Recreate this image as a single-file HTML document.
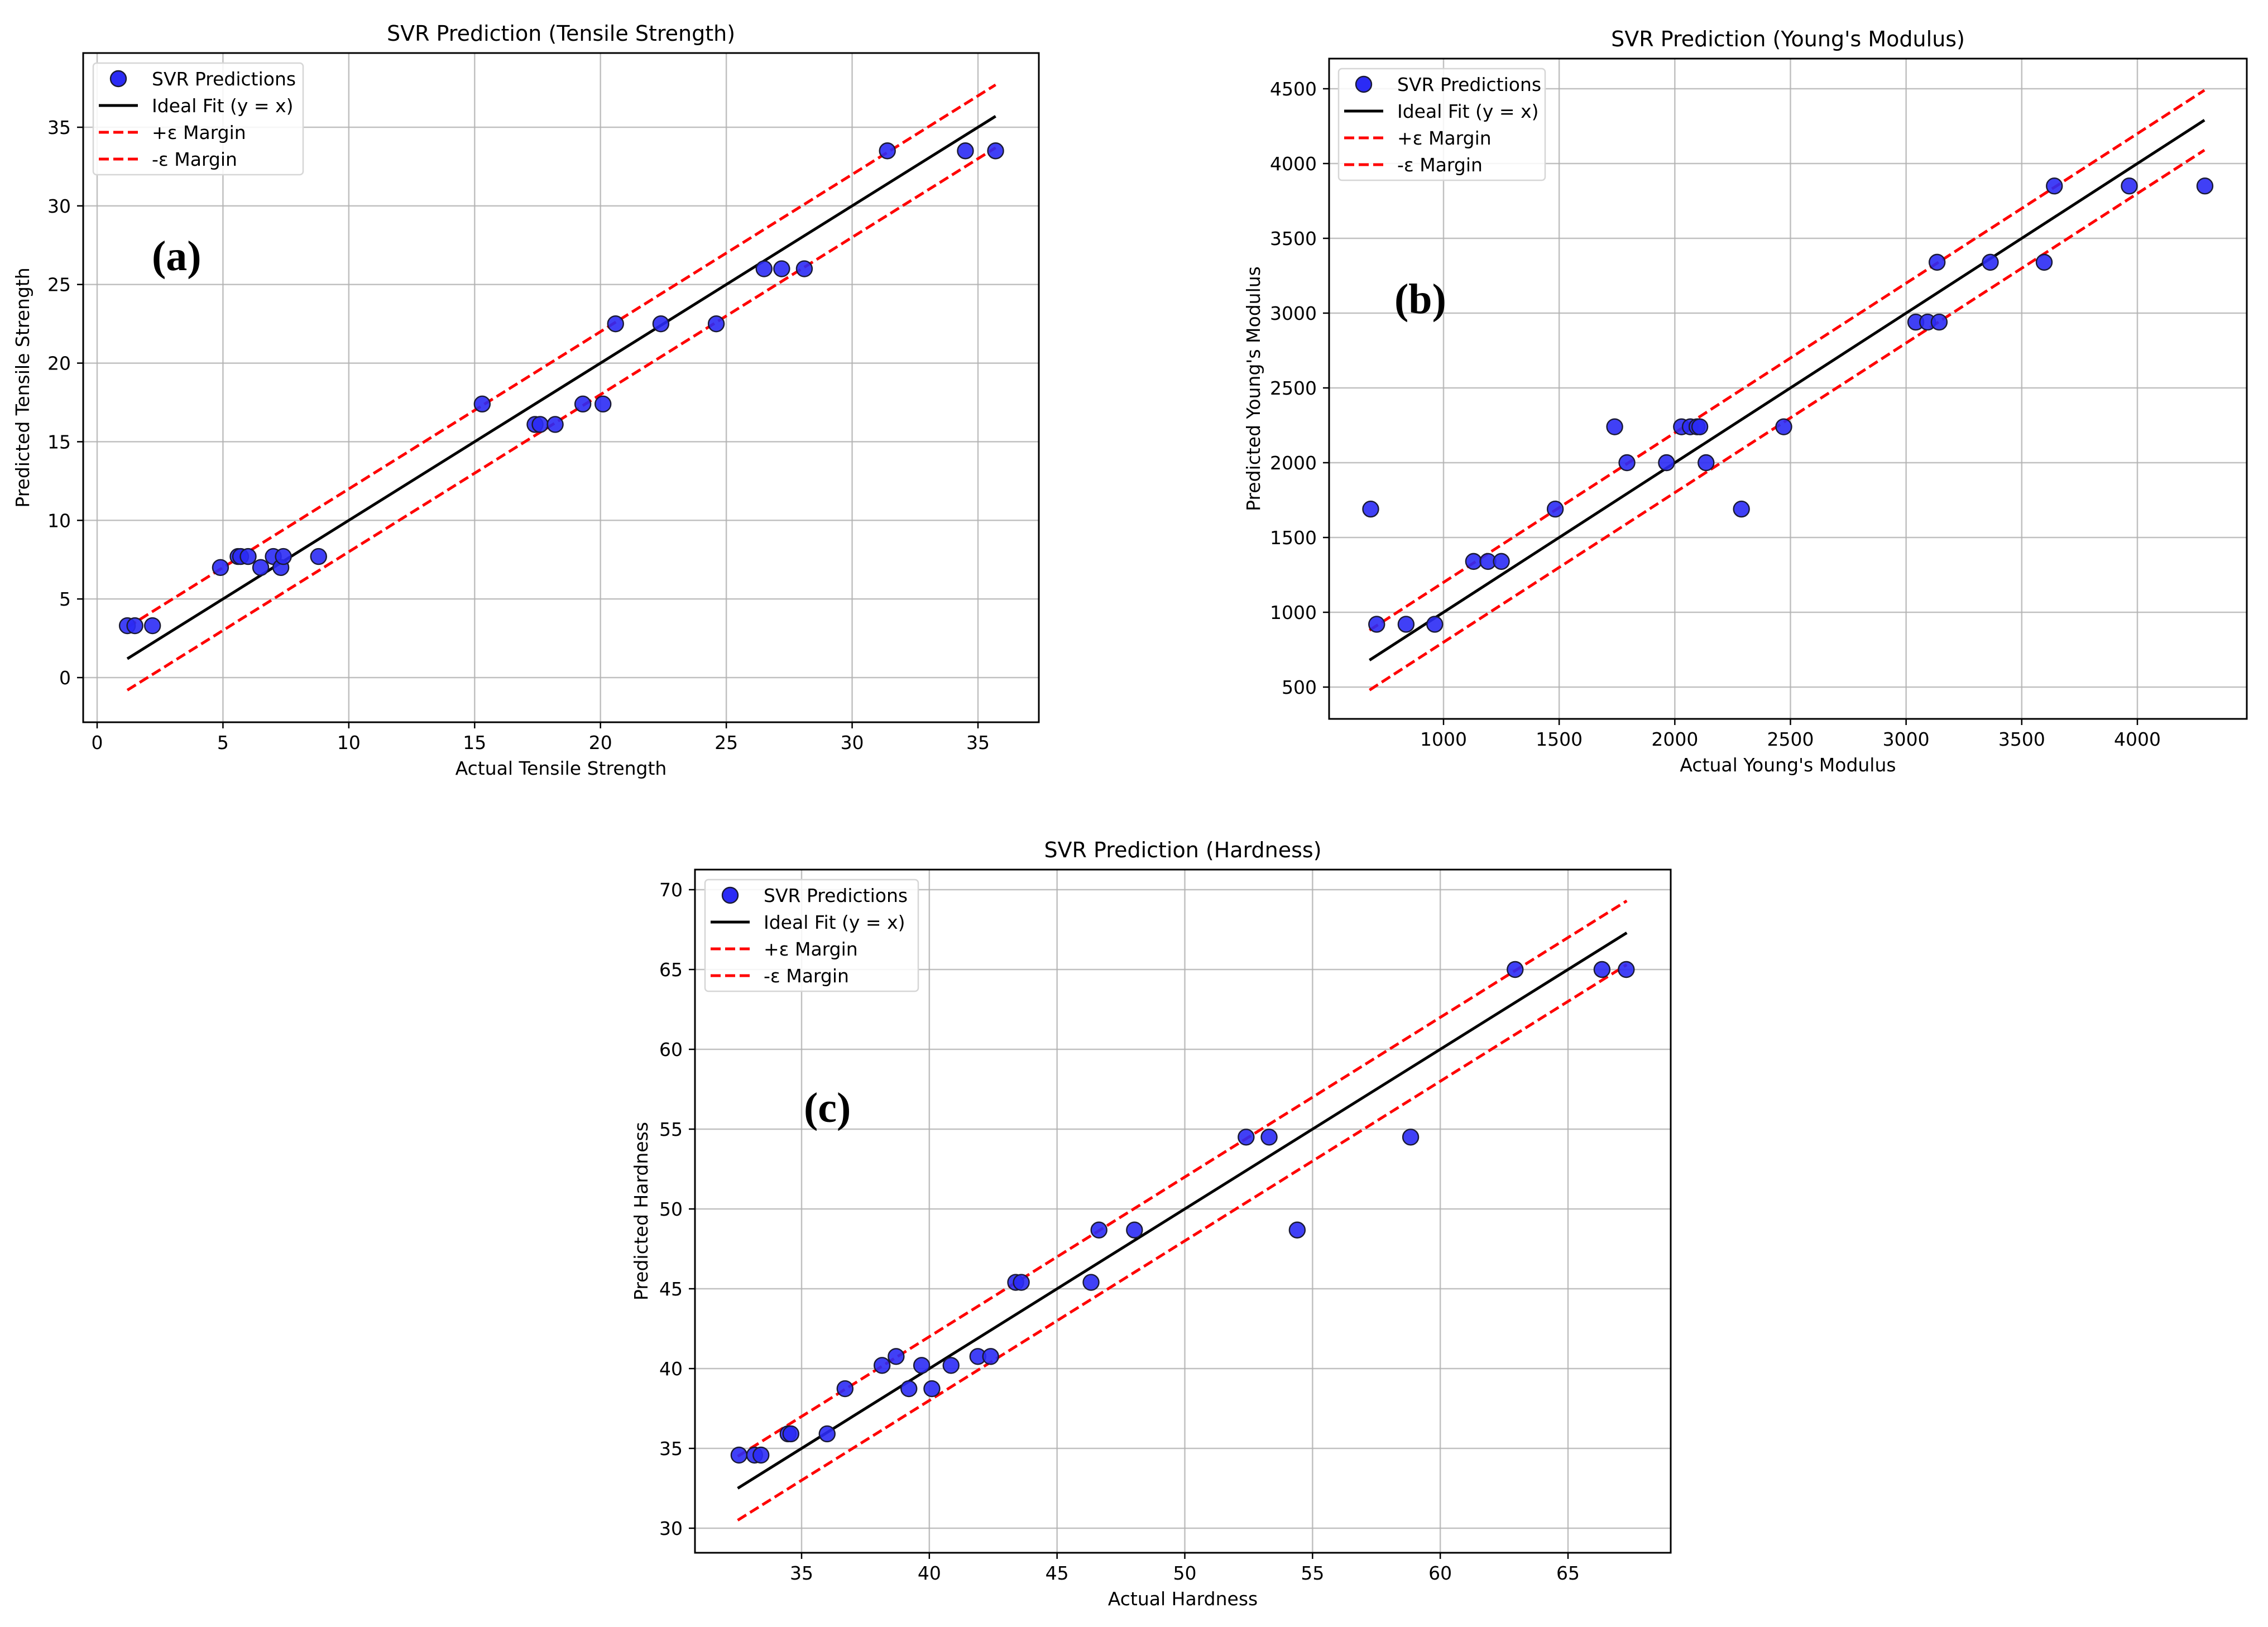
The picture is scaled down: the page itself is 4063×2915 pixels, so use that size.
<!DOCTYPE html>
<html><head><meta charset="utf-8"><style>
html,body{margin:0;padding:0;background:#fff;}
svg{display:block;font-family:"DejaVu Sans","Liberation Sans",sans-serif;}
</style></head><body>
<svg id="fig" width="4063" height="2915" viewBox="0 0 4063 2915" xmlns="http://www.w3.org/2000/svg"></svg>
<script>
// Panel (a) Tensile Strength
const tsActual = [1.2,1.5,2.2,4.9,5.6,5.7,6.0,6.5,7.0,7.3,7.4,8.8,15.3,17.4,17.6,18.2,19.3,20.1,20.6,22.4,24.6,26.5,27.2,28.1,31.4,34.5,35.7];
const tsPred   = [3.3,3.3,3.3,7.0,7.7,7.7,7.7,7.0,7.7,7.0,7.7,7.7,17.4,16.1,16.1,16.1,17.4,17.4,22.5,22.5,22.5,26.0,26.0,26.0,33.5,33.5,33.5];
const tsXTicks = [0,5,10,15,20,25,30,35];
const tsYTicks = [0,5,10,15,20,25,30,35];
const tsEps = 2;
// Panel (b) Young's Modulus
const ymActual = [685,711,838,962,1130,1192,1250,1483,1740,1793,1964,2029,2067,2096,2108,2135,2288,2471,3042,3093,3143,3134,3364,3597,3641,3965,4292];
const ymPred   = [1690,920,920,920,1340,1340,1340,1690,2240,2000,2000,2240,2240,2240,2240,2000,1690,2240,2940,2940,2940,3340,3340,3340,3850,3850,3850];
const ymXTicks = [1000,1500,2000,2500,3000,3500,4000];
const ymYTicks = [500,1000,1500,2000,2500,3000,3500,4000,4500];
const ymEps = 200;
// Panel (c) Hardness
const hdActual = [32.55,33.16,33.41,34.47,34.58,36.0,36.7,38.15,38.7,39.2,39.7,40.1,40.85,41.9,42.4,43.38,43.6,46.33,46.64,48.03,54.4,52.4,53.3,58.84,62.93,66.33,67.28];
const hdPred   = [34.58,34.58,34.58,35.91,35.91,35.91,38.74,40.2,40.76,38.74,40.2,38.74,40.2,40.76,40.76,45.4,45.4,45.4,48.68,48.68,48.68,54.5,54.5,54.5,65.0,65.0,65.0];
const hdXTicks = [35,40,45,50,55,60,65];
const hdYTicks = [30,35,40,45,50,55,60,65,70];
const hdEps = 2;

const NS = "http://www.w3.org/2000/svg";
const svg = document.getElementById('fig');
function mk(tag, attrs, parent){
  const e = document.createElementNS(NS, tag);
  for (const k in attrs) e.setAttribute(k, attrs[k]);
  (parent||svg).appendChild(e);
  return e;
}
function txt(s, attrs, parent){ const t = mk('text', attrs, parent); t.textContent = s; return t; }

function panel(cfg){
  const g = mk('g', {});
  
  
  const X = v => cfg.x0px + (v - cfg.x0v) * cfg.xs;
  const Y = v => cfg.y0px - (v - cfg.y0v) * cfg.ys;
  const L = cfg.left, R = cfg.right, T = cfg.top, B = cfg.bottom;
  cfg.xt.forEach(v => {
    const l = mk('line', {x1:X(v), x2:X(v), y1:T, y2:B, stroke:'#b0b0b0', 'stroke-width':2.5, 'stroke-opacity':0.8}, g);
    
    
    mk('line', {x1:X(v), x2:X(v), y1:B, y2:B+11, stroke:'#000', 'stroke-width':2.5}, g);
    const t = txt(cfg.xfmt(v), {x:X(v), y:B+48, 'text-anchor':'middle', 'font-size':33, fill:'#000'}, g);
    
    
  });
  cfg.yt.forEach(v => {
    const l = mk('line', {x1:L, x2:R, y1:Y(v), y2:Y(v), stroke:'#b0b0b0', 'stroke-width':2.5, 'stroke-opacity':0.8}, g);
    
    
    mk('line', {x1:L-11, x2:L, y1:Y(v), y2:Y(v), stroke:'#000', 'stroke-width':2.5}, g);
    const t = txt(String(v), {x:L-22, y:Y(v)+12, 'text-anchor':'end', 'font-size':33, fill:'#000'}, g);
    
    
  });
  const a = cfg.lineFrom, b = cfg.lineTo, e = cfg.eps;
  const up = mk('line', {x1:X(a), y1:Y(a+e), x2:X(b), y2:Y(b+e), stroke:'#ff0000', 'stroke-width':5, 'stroke-dasharray':'18,8'}, g);
  
  
  const dn = mk('line', {x1:X(a), y1:Y(a-e), x2:X(b), y2:Y(b-e), stroke:'#ff0000', 'stroke-width':5, 'stroke-dasharray':'18,8'}, g);
  
  
  const id = mk('line', {x1:X(a), y1:Y(a), x2:X(b), y2:Y(b), stroke:'#000', 'stroke-width':5}, g);
  
  
  cfg.ax.forEach((v, i) => {
    const c = mk('circle', {cx:X(v), cy:Y(cfg.py[i]), r:14, fill:'#2b2bf5', 'fill-opacity':0.9, stroke:'#1a1a33', 'stroke-width':2.4}, g);
    
    
  });
  const fr = mk('rect', {x:L, y:T, width:R-L, height:B-T, fill:'none', stroke:'#000', 'stroke-width':3}, g);
  
  
  const lg = mk('g', {}, g);
  
  
  const lx = cfg.leg[0], ly = cfg.leg[1];
  mk('rect', {x:lx, y:ly, width:cfg.leg[2], height:200, rx:6, fill:'#fff', 'fill-opacity':0.85, stroke:'#d6d6d6', 'stroke-width':2.5}, lg);
  const hx = lx+10, tx = lx+105;
  const r0 = ly+28;
  const m = mk('circle', {cx:hx+35, cy:r0, r:14, fill:'#2b2bf5', stroke:'#1a1a33', 'stroke-width':2.4}, lg);
  
  
  mk('line', {x1:hx, x2:hx+70, y1:r0+48, y2:r0+48, stroke:'#000', 'stroke-width':5}, lg);
  mk('line', {x1:hx, x2:hx+70, y1:r0+96, y2:r0+96, stroke:'#f00', 'stroke-width':5, 'stroke-dasharray':'18,8'}, lg);
  mk('line', {x1:hx, x2:hx+70, y1:r0+144, y2:r0+144, stroke:'#f00', 'stroke-width':5, 'stroke-dasharray':'18,8'}, lg);
  ['SVR Predictions','Ideal Fit (y = x)','+ε Margin','-ε Margin'].forEach((s, i) => {
    const t = txt(s, {x:tx, y:r0+48*i+12, 'font-size':33, fill:'#000'}, lg);
    
    
  });
  const tt = txt(cfg.title, {x:(L+R)/2, y:T-22, 'text-anchor':'middle', 'font-size':38, fill:'#000'}, g);
  
  
  const xl = txt(cfg.xlabel, {x:(L+R)/2, y:B+94, 'text-anchor':'middle', 'font-size':33, fill:'#000'}, g);
  
  
  const ycx = cfg.ylx, ycy = (T+B)/2;
  const yl = txt(cfg.ylabel, {x:ycx, y:ycy, 'text-anchor':'middle', 'font-size':33, fill:'#000', transform:`rotate(-90 ${ycx} ${ycy})`}, g);
  
  
  const pl = txt(cfg.tag, {x:cfg.tagPos[0], y:cfg.tagPos[1], 'font-size':76, 'font-weight':'bold', 'font-family':'"Liberation Serif",serif', fill:'#000'}, g);
  
  
}

panel({id:'tensile', ax:tsActual, py:tsPred, xt:tsXTicks, yt:tsYTicks, eps:tsEps, xfmt:v=>String(v),
  left:149, right:1861, top:95, bottom:1294,
  x0v:0, x0px:174, xs:(1752-174)/35, y0v:0, y0px:1214, ys:(1214-228)/35,
  lineFrom:1.2, lineTo:35.7, leg:[167,113,376],
  title:'SVR Prediction (Tensile Strength)', xlabel:'Actual Tensile Strength', ylabel:'Predicted Tensile Strength',
  ylx:52, tag:'(a)', tagPos:[272,484]});
panel({id:'youngs-modulus', ax:ymActual, py:ymPred, xt:ymXTicks, yt:ymYTicks, eps:ymEps, xfmt:v=>String(v),
  left:2381, right:4025, top:105, bottom:1288,
  x0v:1000, x0px:2586, xs:(3829-2586)/3000, y0v:4500, y0px:159, ys:134/500,
  lineFrom:680, lineTo:4290, leg:[2398,123,370],
  title:"SVR Prediction (Young's Modulus)", xlabel:"Actual Young's Modulus", ylabel:"Predicted Young's Modulus",
  ylx:2257, tag:'(b)', tagPos:[2498,561]});
panel({id:'hardness', ax:hdActual, py:hdPred, xt:hdXTicks, yt:hdYTicks, eps:hdEps, xfmt:v=>String(v),
  left:1245, right:2993, top:1558, bottom:2782,
  x0v:35, x0px:1436, xs:(2809-1436)/30, y0v:70, y0px:1594, ys:(1737-1594)/5,
  lineFrom:32.5, lineTo:67.3, leg:[1263,1576,382],
  title:'SVR Prediction (Hardness)', xlabel:'Actual Hardness', ylabel:'Predicted Hardness',
  ylx:1160, tag:'(c)', tagPos:[1440,2010]});
</script>
</body></html>
